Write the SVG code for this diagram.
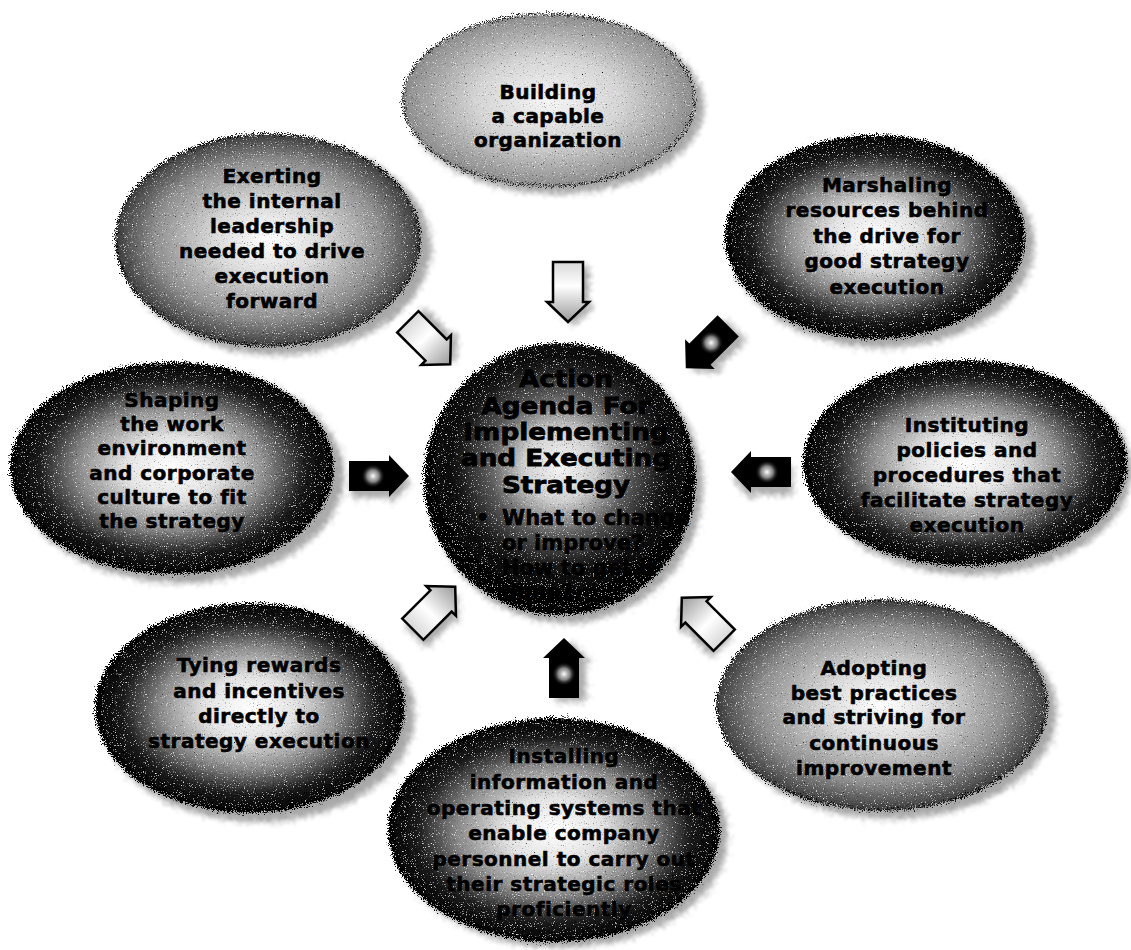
<svg xmlns="http://www.w3.org/2000/svg" width="1131" height="950" viewBox="0 0 1131 950">
<defs>
  <radialGradient id="gDark" cx="0.5" cy="0.5" r="0.5">
    <stop offset="0" stop-color="#ffffff"/>
    <stop offset="0.3" stop-color="#e2e2e2"/>
    <stop offset="0.58" stop-color="#8a8a8a"/>
    <stop offset="0.82" stop-color="#1c1c1c"/>
    <stop offset="1" stop-color="#000000"/>
  </radialGradient>
  <radialGradient id="gMed" cx="0.5" cy="0.5" r="0.5">
    <stop offset="0" stop-color="#ffffff"/>
    <stop offset="0.35" stop-color="#dadada"/>
    <stop offset="0.75" stop-color="#8e8e8e"/>
    <stop offset="1" stop-color="#3c3c3c"/>
  </radialGradient>
  <radialGradient id="gLight" cx="0.5" cy="0.5" r="0.5">
    <stop offset="0" stop-color="#f6f6f6"/>
    <stop offset="0.5" stop-color="#d4d4d4"/>
    <stop offset="1" stop-color="#8c8c8c"/>
  </radialGradient>
  <radialGradient id="gCenter" cx="0.5" cy="0.45" r="0.5">
    <stop offset="0" stop-color="#f6f6f6"/>
    <stop offset="0.26" stop-color="#d0d0d0"/>
    <stop offset="0.52" stop-color="#5a5a5a"/>
    <stop offset="0.76" stop-color="#141414"/>
    <stop offset="1" stop-color="#000000"/>
  </radialGradient>
  <radialGradient id="gGlow" cx="0.5" cy="0.5" r="0.5">
    <stop offset="0" stop-color="#ffffff"/>
    <stop offset="0.5" stop-color="#bbbbbb" stop-opacity="0.7"/>
    <stop offset="1" stop-color="#000000" stop-opacity="0"/>
  </radialGradient>
  <linearGradient id="gHollow" x1="0" y1="0" x2="1" y2="0">
    <stop offset="0" stop-color="#d8d8d8"/>
    <stop offset="0.4" stop-color="#ffffff"/>
    <stop offset="1" stop-color="#9a9a9a"/>
  </linearGradient>
  <filter id="grain" x="-5%" y="-5%" width="110%" height="110%">
    <feTurbulence type="fractalNoise" baseFrequency="0.9" numOctaves="2" seed="5" result="noise"/>
    <feDisplacementMap in="SourceGraphic" in2="noise" scale="12" xChannelSelector="R" yChannelSelector="G" result="disp"/>
    <feColorMatrix in="noise" type="matrix" values="0 0 0 0 0  0 0 0 0 0  0 0 0 0 0  4 0 0 0 -2.6" result="blk"/>
    <feColorMatrix in="noise" type="matrix" values="0 0 0 0 1  0 0 0 0 1  0 0 0 0 1  -4 0 0 0 1.4" result="wht"/>
    <feMerge result="spk"><feMergeNode in="blk"/><feMergeNode in="wht"/></feMerge>
    <feComposite in="spk" in2="disp" operator="in" result="spk2"/>
    <feMerge><feMergeNode in="disp"/><feMergeNode in="spk2"/></feMerge>
  </filter>
  <filter id="halo" x="-10%" y="-10%" width="120%" height="120%">
    <feTurbulence type="fractalNoise" baseFrequency="0.9" numOctaves="2" seed="9" result="noise"/>
    <feDisplacementMap in="SourceGraphic" in2="noise" scale="22" xChannelSelector="R" yChannelSelector="G" result="d"/>
    <feGaussianBlur in="d" stdDeviation="1.5"/>
  </filter>
  <path id="arrow" d="M -30 -15 L 10 -15 L 10 -21 L 30 0 L 10 21 L 10 15 L -30 15 Z"/>
</defs>
<style>
  .halo { fill: #8c8c8c; opacity: 0.75; filter: url(#halo); }
  .dark { fill: url(#gDark); filter: url(#grain); }
  .med { fill: url(#gMed); stroke: #111; stroke-width: 1.5; filter: url(#grain); }
  .light { fill: url(#gLight); stroke: #222; stroke-width: 1.5; filter: url(#grain); }
  .core { fill: url(#gCenter); filter: url(#grain); }
  .lbl { font-family: "DejaVu Sans", "Liberation Sans", sans-serif; font-weight: bold; font-size: 20px; letter-spacing: 0.5px; fill: #000; stroke: #000; stroke-width: 0.6px; text-anchor: middle; }
  .title { font-size: 23px; letter-spacing: 0; stroke-width: 0.8px; }
  .bul { font-size: 21px; letter-spacing: 0; text-anchor: start; }
  .ash { fill: #8c8c8c; opacity: 0.7; filter: url(#halo); }
  .adark { fill: #000; }
  .ahol { fill: url(#gHollow); stroke: #000; stroke-width: 2.5; stroke-linejoin: miter; }
  .glow { fill: url(#gGlow); }
</style>
<rect width="1131" height="950" fill="#ffffff"/>

<g id="node-building">
  <ellipse class="halo" cx="556" cy="106" rx="148" ry="88"/>
  <ellipse class="light" cx="549" cy="100" rx="146" ry="86"/>
  <text class="lbl" x="548" y="99">Building</text>
  <text class="lbl" x="548" y="123">a capable</text>
  <text class="lbl" x="548" y="147">organization</text>
</g>

<g id="node-exerting">
  <ellipse class="halo" cx="277" cy="247" rx="154" ry="108"/>
  <ellipse class="med" cx="268" cy="240" rx="152" ry="106"/>
  <text class="lbl" x="272" y="183">Exerting</text>
  <text class="lbl" x="272" y="208">the internal</text>
  <text class="lbl" x="272" y="233">leadership</text>
  <text class="lbl" x="272" y="258">needed to drive</text>
  <text class="lbl" x="272" y="283">execution</text>
  <text class="lbl" x="272" y="308">forward</text>
</g>

<g id="node-marshaling">
  <ellipse class="halo" cx="882" cy="244" rx="152" ry="104"/>
  <ellipse class="dark" cx="875" cy="237" rx="150" ry="102"/>
  <text class="lbl" x="887" y="192">Marshaling</text>
  <text class="lbl" x="887" y="217">resources behind</text>
  <text class="lbl" x="887" y="243">the drive for</text>
  <text class="lbl" x="887" y="268">good strategy</text>
  <text class="lbl" x="887" y="294">execution</text>
</g>

<g id="node-shaping">
  <ellipse class="halo" cx="180" cy="475" rx="164" ry="108"/>
  <ellipse class="dark" cx="172" cy="468" rx="162" ry="106"/>
  <text class="lbl" x="172" y="407">Shaping</text>
  <text class="lbl" x="172" y="431">the work</text>
  <text class="lbl" x="172" y="455">environment</text>
  <text class="lbl" x="172" y="480">and corporate</text>
  <text class="lbl" x="172" y="504">culture to fit</text>
  <text class="lbl" x="172" y="528">the strategy</text>
</g>

<g id="node-instituting">
  <ellipse class="halo" cx="972" cy="470" rx="160" ry="105"/>
  <ellipse class="dark" cx="965" cy="463" rx="162" ry="103"/>
  <text class="lbl" x="967" y="432">Instituting</text>
  <text class="lbl" x="967" y="457">policies and</text>
  <text class="lbl" x="967" y="482">procedures that</text>
  <text class="lbl" x="967" y="507">facilitate strategy</text>
  <text class="lbl" x="967" y="532">execution</text>
</g>

<g id="node-tying">
  <ellipse class="halo" cx="258" cy="715" rx="157" ry="107"/>
  <ellipse class="dark" cx="250" cy="708" rx="155" ry="105"/>
  <text class="lbl" x="259" y="672">Tying rewards</text>
  <text class="lbl" x="259" y="698">and incentives</text>
  <text class="lbl" x="259" y="723">directly to</text>
  <text class="lbl" x="259" y="748">strategy execution</text>
</g>

<g id="node-adopting">
  <ellipse class="halo" cx="890" cy="712" rx="167" ry="107"/>
  <ellipse class="med" cx="882" cy="705" rx="165" ry="105"/>
  <text class="lbl" x="874" y="675">Adopting</text>
  <text class="lbl" x="874" y="700">best practices</text>
  <text class="lbl" x="874" y="724">and striving for</text>
  <text class="lbl" x="874" y="750">continuous</text>
  <text class="lbl" x="874" y="775">improvement</text>
</g>

<g id="node-installing">
  <ellipse class="halo" cx="561" cy="836" rx="167" ry="112"/>
  <ellipse class="dark" cx="554" cy="830" rx="166" ry="112"/>
  <text class="lbl" x="564" y="763">Installing</text>
  <text class="lbl" x="564" y="789">information and</text>
  <text class="lbl" x="564" y="815">operating systems that</text>
  <text class="lbl" x="564" y="840">enable company</text>
  <text class="lbl" x="564" y="866">personnel to carry out</text>
  <text class="lbl" x="564" y="891">their strategic roles</text>
  <text class="lbl" x="564" y="916">proficiently</text>
</g>

<g id="node-center">
  <circle class="halo" cx="566" cy="486" r="137"/>
  <circle class="core" cx="560" cy="479" r="136"/>
  <g transform="translate(566,0) scale(1.14,1) translate(-566,0)">
    <text class="lbl title" x="566" y="387">Action</text>
    <text class="lbl title" x="566" y="414">Agenda For</text>
    <text class="lbl title" x="566" y="440">Implementing</text>
    <text class="lbl title" x="566" y="466">and Executing</text>
    <text class="lbl title" x="566" y="493">Strategy</text>
  </g>
  <text class="lbl bul" x="476" y="525">•</text>
  <text class="lbl bul" x="502" y="525">What to change</text>
  <text class="lbl bul" x="502" y="550">or improve?</text>
  <text class="lbl bul" x="502" y="575">How to get it</text>
  <text class="lbl bul" x="502" y="599">done?</text>
</g>

<g id="connectors">
  <g transform="translate(568,292) rotate(90)">
    <use href="#arrow" class="ash" transform="translate(4,-6)"/>
    <use href="#arrow" class="ahol"/>
  </g>
  <g transform="translate(429,343) rotate(45)">
    <use href="#arrow" class="ash" transform="translate(2,-7)"/>
    <use href="#arrow" class="ahol"/>
  </g>
  <g transform="translate(707,347) rotate(135)">
    <use href="#arrow" class="ash" transform="translate(-3,-8)"/>
    <use href="#arrow" class="adark"/>
    <circle class="glow" cx="-6" cy="0" r="12"/>
  </g>
  <g transform="translate(379,476)">
    <use href="#arrow" class="ash" transform="translate(2,7)"/>
    <use href="#arrow" class="adark"/>
    <circle class="glow" cx="-6" cy="0" r="12"/>
  </g>
  <g transform="translate(761,472) rotate(180)">
    <use href="#arrow" class="ash" transform="translate(-2,-8)"/>
    <use href="#arrow" class="adark"/>
    <circle class="glow" cx="-6" cy="0" r="12"/>
  </g>
  <g transform="translate(434,608) rotate(-45)">
    <use href="#arrow" class="ash" transform="translate(-4,8)"/>
    <use href="#arrow" class="ahol"/>
  </g>
  <g transform="translate(564,668) rotate(-90)">
    <use href="#arrow" class="ash" transform="translate(-4,7)"/>
    <use href="#arrow" class="adark"/>
    <circle class="glow" cx="-6" cy="0" r="12"/>
  </g>
  <g transform="translate(703,619) rotate(-135)">
    <use href="#arrow" class="ash" transform="translate(-4,-6)"/>
    <use href="#arrow" class="ahol"/>
  </g>
</g>
</svg>
